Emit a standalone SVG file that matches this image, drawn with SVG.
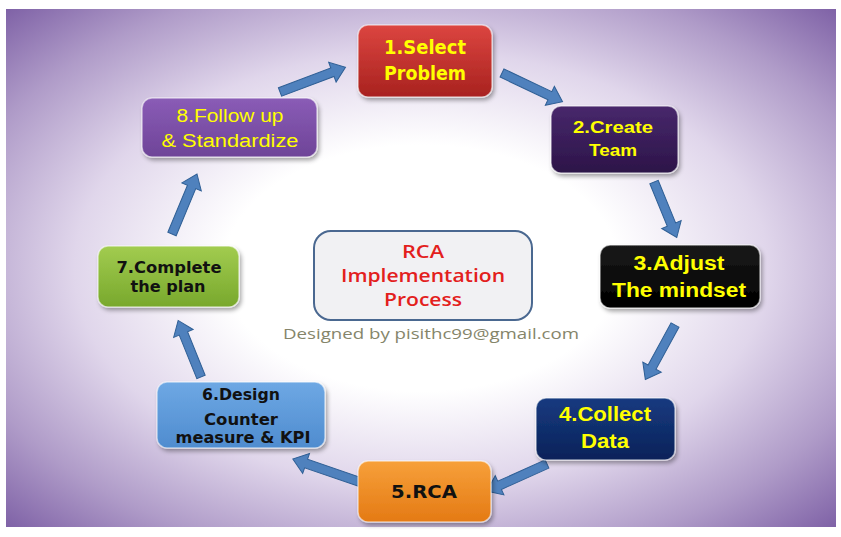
<svg xmlns="http://www.w3.org/2000/svg" width="841" height="537" viewBox="0 0 841 537">
<defs>
<radialGradient id="bg" cx="0.5" cy="0.5" r="0.72">
<stop offset="0" stop-color="#ffffff"/>
<stop offset="0.33" stop-color="#ffffff"/>
<stop offset="0.58" stop-color="#e0d6eb"/>
<stop offset="0.8" stop-color="#af9bc8"/>
<stop offset="1" stop-color="#7a5ca3"/>
</radialGradient>
<linearGradient id="g1" x1="0" y1="0" x2="0" y2="1"><stop offset="0" stop-color="#dc4540"/><stop offset="1" stop-color="#a8221f"/></linearGradient>
<linearGradient id="g2" x1="0" y1="0" x2="0" y2="1"><stop offset="0" stop-color="#48286c"/><stop offset="1" stop-color="#2c1448"/></linearGradient>
<linearGradient id="g3" x1="0" y1="0" x2="0" y2="1"><stop offset="0" stop-color="#1a1a1a"/><stop offset="1" stop-color="#000000"/></linearGradient>
<linearGradient id="g4" x1="0" y1="0" x2="0" y2="1"><stop offset="0" stop-color="#163a80"/><stop offset="1" stop-color="#0b2259"/></linearGradient>
<linearGradient id="g5" x1="0" y1="0" x2="0" y2="1"><stop offset="0" stop-color="#f7a03a"/><stop offset="1" stop-color="#e47a14"/></linearGradient>
<linearGradient id="g6" x1="0" y1="0" x2="0" y2="1"><stop offset="0" stop-color="#6ea8e4"/><stop offset="1" stop-color="#4f8ccf"/></linearGradient>
<linearGradient id="g7" x1="0" y1="0" x2="0" y2="1"><stop offset="0" stop-color="#a2cc50"/><stop offset="1" stop-color="#78a82c"/></linearGradient>
<linearGradient id="g8" x1="0" y1="0" x2="0" y2="1"><stop offset="0" stop-color="#8a5cb6"/><stop offset="1" stop-color="#6e4498"/></linearGradient>
<filter id="sh" x="-10%" y="-10%" width="125%" height="130%">
<feDropShadow dx="2" dy="3" stdDeviation="2" flood-color="#000" flood-opacity="0.35"/>
</filter>
</defs>
<style>
.node rect{stroke:#ffffff;stroke-opacity:0.55;stroke-width:1.5;filter:url(#sh)}
.t{font-family:"Liberation Sans",Arial,sans-serif;font-weight:bold;text-anchor:middle}
.y{fill:#ffff00}
.k{fill:#111111}
.tah{font-family:"DejaVu Sans",Verdana,sans-serif;font-weight:bold;text-anchor:middle}
.arrow{fill:#4f81bd;stroke:#2f5f95;stroke-width:1}
.ctr{font-family:"Open Sans","Liberation Sans",sans-serif;font-weight:600;fill:#e3201c;text-anchor:middle;font-size:18px}
</style>
<rect x="6" y="9" width="830" height="518" fill="url(#bg)"/>

<g id="connectors">
<polygon class="arrow" transform="translate(280,92) rotate(-20.7)" points="0,-4.5 56,-4.5 56,-10.5 70,0 56,10.5 56,4.5 0,4.5"/>
<polygon class="arrow" transform="translate(502,73) rotate(25.4)" points="0,-4.5 53,-4.5 53,-10.5 67,0 53,10.5 53,4.5 0,4.5"/>
<polygon class="arrow" transform="translate(654,182) rotate(67.7)" points="0,-4.5 46,-4.5 46,-10.5 60,0 46,10.5 46,4.5 0,4.5"/>
<polygon class="arrow" transform="translate(675,325) rotate(118.6)" points="0,-4.5 48,-4.5 48,-10.5 62,0 48,10.5 48,4.5 0,4.5"/>
<polygon class="arrow" transform="translate(547,464) rotate(155.8)" points="0,-4.5 52,-4.5 52,-10.5 66,0 52,10.5 52,4.5 0,4.5"/>
<polygon class="arrow" transform="translate(360,482) rotate(-161.1)" points="0,-4.5 57,-4.5 57,-10.5 71,0 57,10.5 57,4.5 0,4.5"/>
<polygon class="arrow" transform="translate(201,377) rotate(-112)" points="0,-4.5 47,-4.5 47,-10.5 61,0 47,10.5 47,4.5 0,4.5"/>
<polygon class="arrow" transform="translate(172,234) rotate(-67.4)" points="0,-4.5 51,-4.5 51,-10.5 65,0 51,10.5 51,4.5 0,4.5"/>
</g>

<g id="center">
<rect x="314" y="231" width="218" height="89" rx="17" fill="#f1f1f3" stroke="#4a6890" stroke-width="2"/>
<text class="ctr" x="423" y="258" textLength="42" lengthAdjust="spacingAndGlyphs">RCA</text>
<text class="ctr" x="423" y="282" textLength="164" lengthAdjust="spacingAndGlyphs">Implementation</text>
<text class="ctr" x="423" y="306" textLength="78" lengthAdjust="spacingAndGlyphs">Process</text>
<text x="431" y="339" font-family="'Open Sans','Liberation Sans',sans-serif" font-size="15" fill="#85856a" text-anchor="middle" textLength="296" lengthAdjust="spacingAndGlyphs">Designed by pisithc99@gmail.com</text>
</g>

<g id="node1" class="node">
<rect x="358" y="25" width="134" height="72" rx="10" fill="url(#g1)"/>
<text class="tah y" x="425" y="54" font-size="19" textLength="82" lengthAdjust="spacingAndGlyphs">1.Select</text>
<text class="tah y" x="425" y="80" font-size="19" textLength="82" lengthAdjust="spacingAndGlyphs">Problem</text>
</g>

<g id="node2" class="node">
<rect x="551" y="106" width="127" height="67" rx="10" fill="url(#g2)"/>
<text class="t y" x="613" y="133" font-size="17" textLength="80" lengthAdjust="spacingAndGlyphs">2.Create</text>
<text class="t y" x="613" y="156" font-size="17" textLength="48" lengthAdjust="spacingAndGlyphs">Team</text>
</g>

<g id="node3" class="node">
<rect x="600" y="245" width="160" height="63" rx="10" fill="url(#g3)"/>
<text class="t y" x="679" y="270" font-size="20" textLength="91" lengthAdjust="spacingAndGlyphs">3.Adjust</text>
<text class="t y" x="679" y="297" font-size="20" textLength="134" lengthAdjust="spacingAndGlyphs">The mindset</text>
</g>

<g id="node4" class="node">
<rect x="536" y="398" width="139" height="62" rx="10" fill="url(#g4)"/>
<text class="t y" x="605" y="421" font-size="20" textLength="92" lengthAdjust="spacingAndGlyphs">4.Collect</text>
<text class="t y" x="605" y="448" font-size="20" textLength="48" lengthAdjust="spacingAndGlyphs">Data</text>
</g>

<g id="node5" class="node">
<rect x="358" y="461" width="133" height="61" rx="10" fill="url(#g5)"/>
<text class="tah k" x="424" y="498" font-size="18" textLength="66" lengthAdjust="spacingAndGlyphs">5.RCA</text>
</g>

<g id="node6" class="node">
<rect x="157" y="382" width="168" height="66" rx="10" fill="url(#g6)"/>
<text class="tah k" x="241" y="400" font-size="15" textLength="78" lengthAdjust="spacingAndGlyphs">6.Design</text>
<text class="tah k" x="241" y="425" font-size="15" textLength="74" lengthAdjust="spacingAndGlyphs">Counter</text>
<text class="tah k" x="243" y="443" font-size="15" textLength="135" lengthAdjust="spacingAndGlyphs">measure &amp; KPI</text>
</g>

<g id="node7" class="node">
<rect x="98" y="246" width="141" height="61" rx="10" fill="url(#g7)"/>
<text class="tah k" x="169" y="273" font-size="16" textLength="105" lengthAdjust="spacingAndGlyphs">7.Complete</text>
<text class="tah k" x="168" y="292" font-size="16" textLength="75" lengthAdjust="spacingAndGlyphs">the plan</text>
</g>

<g id="node8" class="node">
<rect x="142" y="98" width="175" height="59" rx="10" fill="url(#g8)"/>
<text x="230" y="122" font-family="'Liberation Sans',Arial,sans-serif" font-size="18" fill="#ffff00" text-anchor="middle" textLength="107" lengthAdjust="spacingAndGlyphs">8.Follow up</text>
<text x="230" y="147" font-family="'Liberation Sans',Arial,sans-serif" font-size="18" fill="#ffff00" text-anchor="middle" textLength="137" lengthAdjust="spacingAndGlyphs">&amp; Standardize</text>
</g>
</svg>
